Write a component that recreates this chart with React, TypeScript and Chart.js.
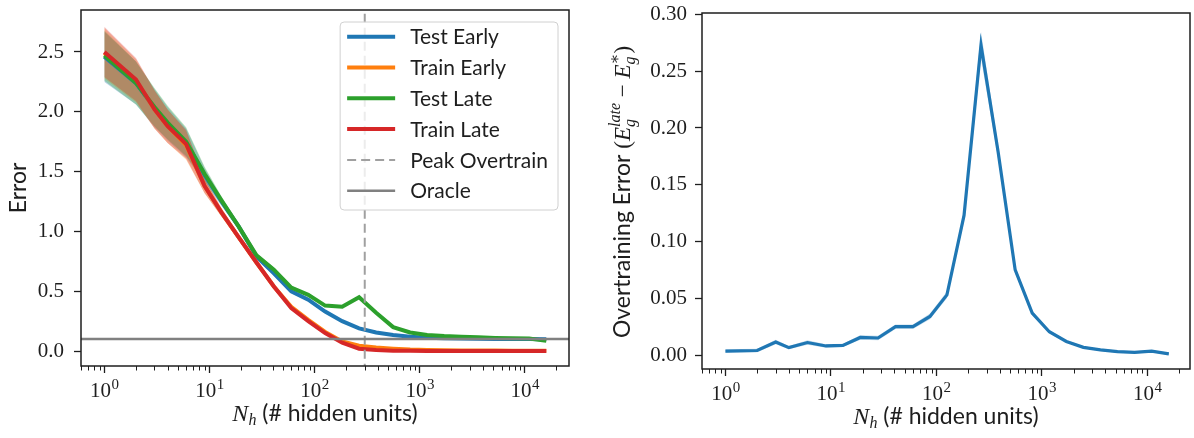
import React, { useEffect, useRef } from "react";
import { Chart, registerables } from "chart.js";
Chart.register(...registerables);

// ---------------- data ----------------
const hiddenUnits = [1, 2, 3, 4, 6, 9, 13, 19, 28, 41, 60, 87, 126, 183, 265, 385, 559, 811, 1177, 1708, 2478, 3597, 5220, 7575, 10993, 16000];
const testEarly = [2.46, 2.24, 2.03, 1.9, 1.74, 1.47, 1.25, 1.04, 0.79, 0.65, 0.5, 0.43, 0.33, 0.25, 0.19, 0.155, 0.135, 0.12, 0.112, 0.108, 0.105, 0.103, 0.101, 0.1, 0.1, 0.098];
const trainEarly = [2.49, 2.26, 2.02, 1.88, 1.72, 1.38, 1.16, 0.95, 0.74, 0.54, 0.37, 0.26, 0.16, 0.08, 0.045, 0.03, 0.02, 0.012, 0.008, 0.006, 0.005, 0.004, 0.004, 0.003, 0.003, 0.003];
const testLate = [2.47, 2.24, 2.04, 1.91, 1.75, 1.48, 1.26, 1.04, 0.8, 0.68, 0.53, 0.47, 0.38, 0.37, 0.45, 0.32, 0.2, 0.155, 0.135, 0.125, 0.12, 0.115, 0.11, 0.108, 0.105, 0.085];
const trainLate = [2.5, 2.27, 2.02, 1.88, 1.73, 1.38, 1.16, 0.95, 0.74, 0.54, 0.36, 0.25, 0.15, 0.07, 0.02, 0.008, 0.003, 0.002, 0.001, 0.001, 0.001, 0.001, 0.001, 0.001, 0.001, 0.001];
const errorBand = [0.21, 0.18, 0.16, 0.14, 0.12, 0.06, 0.035, 0.025, 0.02, 0.018, 0.015, 0.012, 0.01, 0.01, 0.008, 0.006, 0.005, 0.004, 0.003, 0.003, 0.003, 0.002, 0.002, 0.002, 0.002, 0.002];
const overtrainError = [0.0035, 0.004, 0.0115, 0.0065, 0.011, 0.008, 0.0085, 0.0155, 0.015, 0.025, 0.025, 0.034, 0.053, 0.123, 0.273, 0.179, 0.075, 0.037, 0.0205, 0.012, 0.0068, 0.0045, 0.003, 0.0024, 0.0035, 0.001];
const overtrainBand = [0.0015, 0.0015, 0.002, 0.0015, 0.002, 0.0015, 0.0015, 0.002, 0.002, 0.002, 0.002, 0.0025, 0.003, 0.005, 0.012, 0.006, 0.003, 0.002, 0.0015, 0.001, 0.001, 0.001, 0.001, 0.001, 0.001, 0.001];
const peakOvertrain = 300;
const oracleError = 0.1;
const xMajorTicks = [1, 10, 100, 1000, 10000];
const leftYTicks = [0, 0.5, 1, 1.5, 2, 2.5];
const rightYTicks = [0, 0.05, 0.1, 0.15, 0.2, 0.25, 0.3];
const seriesLabels = ["Test Early", "Train Early", "Test Late", "Train Late", "Peak Overtrain", "Oracle"];

// ---------------- styles ----------------
const BLUE = "#1f77b4";
const ORANGE = "#ff7f0e";
const GREEN = "#2ca02c";
const RED = "#d62728";
const INK = "#1e1e1e";
const SERIF = '"Liberation Serif", "DejaVu Serif", serif';
const SANS = 'Lato, "Open Sans", sans-serif';

const pts = (vals: number[]) => hiddenUnits.map((x, i) => ({ x, y: vals[i] }));
const bandPts = (vals: number[], band: number[], s: number) => hiddenUnits.map((x, i) => ({ x, y: vals[i] + s * band[i] }));

type Seg = { t: string; f: string; dy?: number } | { sup: string; sub: string; f: string; supDy: number; subDy: number };

function segW(ctx: CanvasRenderingContext2D, s: Seg) {
  ctx.font = s.f;
  if ("t" in s) return ctx.measureText(s.t).width;
  return Math.max(ctx.measureText(s.sup).width, ctx.measureText(s.sub).width);
}
function drawRich(ctx: CanvasRenderingContext2D, segs: Seg[], cx: number, cy: number, rot: boolean) {
  ctx.save();
  ctx.translate(cx, cy);
  if (rot) ctx.rotate(-Math.PI / 2);
  ctx.textBaseline = "alphabetic";
  ctx.textAlign = "left";
  ctx.fillStyle = INK;
  const total = segs.reduce((a, s) => a + segW(ctx, s), 0);
  let x = -total / 2;
  for (const s of segs) {
    const w = segW(ctx, s);
    ctx.font = s.f;
    if ("t" in s) ctx.fillText(s.t, x, s.dy || 0);
    else {
      ctx.fillText(s.sup, x, s.supDy);
      ctx.fillText(s.sub, x, s.subDy);
    }
    x += w;
  }
  ctx.restore();
}

function decorPlugin(xTitle: Seg[], yTitle: Seg[], yTitleX: number, yTitleY: number | null) {
  return {
    id: "decor",
    afterDraw(chart: any) {
      const ctx: CanvasRenderingContext2D = chart.ctx;
      const a = chart.chartArea;
      const xs = chart.scales.x;
      ctx.save();
      // spines
      ctx.strokeStyle = INK;
      ctx.lineWidth = 1.5;
      ctx.strokeRect(a.left, a.top, a.right - a.left, a.bottom - a.top);
      // minor ticks
      ctx.lineWidth = 1;
      const lo = Math.floor(Math.log10(xs.min));
      const hi = Math.ceil(Math.log10(xs.max));
      for (let k = lo; k <= hi; k++) {
        for (let m = 2; m <= 9; m++) {
          const v = m * Math.pow(10, k);
          if (v < xs.min || v > xs.max) continue;
          const px = Math.round(xs.getPixelForValue(v)) + 0.5;
          ctx.beginPath();
          ctx.moveTo(px, a.bottom);
          ctx.lineTo(px, a.bottom + 4.5);
          ctx.stroke();
        }
      }
      // x tick labels 10^k
      ctx.fillStyle = INK;
      ctx.textBaseline = "alphabetic";
      ctx.textAlign = "left";
      for (const v of xMajorTicks) {
        const px = xs.getPixelForValue(v);
        const e = String(Math.round(Math.log10(v)));
        ctx.font = `21px ${SERIF}`;
        const w1 = ctx.measureText("10").width;
        ctx.font = `15px ${SERIF}`;
        const w2 = ctx.measureText(e).width;
        const x0 = px - (w1 + w2) / 2;
        ctx.font = `21px ${SERIF}`;
        ctx.fillText("10", x0, a.bottom + 31);
        ctx.font = `15px ${SERIF}`;
        ctx.fillText(e, x0 + w1 + 0.5, a.bottom + 23);
      }
      ctx.restore();
      drawRich(ctx, xTitle, (a.left + a.right) / 2, a.bottom + 55, false);
      drawRich(ctx, yTitle, yTitleX, yTitleY ?? (a.top + a.bottom) / 2, true);
    },
  };
}

const legendPlugin = {
  id: "boxLegend",
  afterDraw(chart: any) {
    const items = chart.data.datasets
      .filter((d: any) => d.legendRank !== undefined)
      .sort((p: any, q: any) => p.legendRank - q.legendRank);
    if (!items.length) return;
    const ctx: CanvasRenderingContext2D = chart.ctx;
    const a = chart.chartArea;
    ctx.save();
    ctx.font = `21px ${SANS}`;
    const maxW = Math.max(...items.map((d: any) => ctx.measureText(d.label).width));
    const rowH = 30.8, handle = 48, pad = 7, gap = 15, rpad = 10;
    const w = pad + handle + gap + maxW + rpad;
    const h = 14.7 + rowH * (items.length - 1) + 19.3;
    const x0 = a.right - 11 - w;
    const y0 = a.top + 12;
    ctx.beginPath();
    (ctx as any).roundRect(x0, y0, w, h, 4);
    ctx.fillStyle = "rgba(255,255,255,0.8)";
    ctx.fill();
    ctx.strokeStyle = "#d0d0d0";
    ctx.lineWidth = 1;
    ctx.stroke();
    items.forEach((d: any, i: number) => {
      const cy = y0 + 14.7 + i * rowH;
      ctx.beginPath();
      ctx.setLineDash(d.borderDash || []);
      ctx.strokeStyle = d.borderColor;
      ctx.lineWidth = d.borderWidth;
      ctx.moveTo(x0 + pad, cy);
      ctx.lineTo(x0 + pad + handle, cy);
      ctx.stroke();
      ctx.setLineDash([]);
      ctx.fillStyle = INK;
      ctx.textBaseline = "middle";
      ctx.textAlign = "left";
      ctx.fillText(d.label, x0 + pad + handle + gap, cy + 1);
    });
    ctx.restore();
  },
};

const zeroPad = (s: any) => {
  s.paddingLeft = 0;
  s.paddingRight = 0;
  s.paddingTop = 0;
  s.paddingBottom = 0;
};

function axisGrid() {
  return { drawOnChartArea: false, drawTicks: true, tickLength: 7, tickWidth: 1.3, tickColor: INK, color: INK };
}

function lineDs(label: string, vals: number[], color: string, order: number, rank: number) {
  return { label, data: pts(vals), borderColor: color, backgroundColor: color, borderWidth: 4, pointRadius: 0, tension: 0, fill: false, order, legendRank: rank };
}
function bandDs(vals: number[], band: number[], rgba: string, order: number) {
  return [
    { label: "", data: bandPts(vals, band, -1), borderWidth: 0, pointRadius: 0, fill: false, order, borderColor: "transparent" },
    { label: "", data: bandPts(vals, band, 1), borderWidth: 0, pointRadius: 0, fill: "-1", backgroundColor: rgba, order, borderColor: "transparent" },
  ];
}

function leftConfig(): any {
  const datasets: any[] = [
    { label: seriesLabels[5], data: [{ x: 0.1, y: oracleError }, { x: 1e6, y: oracleError }], borderColor: "#808080", borderWidth: 2.5, pointRadius: 0, fill: false, order: 0, legendRank: 5 },
    { label: seriesLabels[4], data: [{ x: peakOvertrain, y: -1 }, { x: peakOvertrain, y: 4 }], borderColor: "#a0a0a0", borderDash: [9, 5], borderWidth: 2, pointRadius: 0, fill: false, order: 0, legendRank: 4 },
    lineDs(seriesLabels[3], trainLate, RED, 1, 3),
    lineDs(seriesLabels[2], testLate, GREEN, 2, 2),
    lineDs(seriesLabels[1], trainEarly, ORANGE, 3, 1),
    lineDs(seriesLabels[0], testEarly, BLUE, 4, 0),
    ...bandDs(trainLate, errorBand, "rgba(214,39,40,0.3)", 10),
    ...bandDs(testLate, errorBand, "rgba(44,160,44,0.3)", 11),
    ...bandDs(trainEarly, errorBand, "rgba(255,127,14,0.3)", 12),
    ...bandDs(testEarly, errorBand, "rgba(31,119,180,0.3)", 13),
  ];
  const xTitle: Seg[] = [
    { t: "N", f: `italic 24px ${SERIF}` },
    { t: "h", f: `italic 16px ${SERIF}`, dy: 4 },
    { t: " (# hidden units)", f: `23px ${SANS}` },
  ];
  const yTitle: Seg[] = [{ t: "Error", f: `23px ${SANS}` }];
  return {
    type: "line",
    data: { datasets },
    options: {
      responsive: false,
      devicePixelRatio: 1,
      animation: false,
      layout: { padding: { left: 0, top: 10, right: 21, bottom: 0 } },
      plugins: { legend: { display: false }, tooltip: { enabled: false } },
      scales: {
        x: {
          type: "logarithmic",
          min: 0.604,
          max: 26300,
          afterBuildTicks: (s: any) => { s.ticks = xMajorTicks.map((v) => ({ value: v, major: true })); },
          afterFit: (s: any) => { s.height = 72; zeroPad(s); },
          ticks: { display: false },
          grid: axisGrid(),
          border: { display: false },
        },
        y: {
          type: "linear",
          min: -0.125,
          max: 2.851,
          afterBuildTicks: (s: any) => { s.ticks = leftYTicks.map((v) => ({ value: v })); },
          afterFit: (s: any) => { s.width = 81; zeroPad(s); },
          ticks: { font: { family: SERIF, size: 21 }, color: INK, padding: 10, callback: (v: any) => Number(v).toFixed(1) },
          grid: axisGrid(),
          border: { display: false },
        },
      },
    },
    plugins: [decorPlugin(xTitle, yTitle, 26, null), legendPlugin],
  };
}

function rightConfig(): any {
  const datasets: any[] = [
    { label: "Overtraining Error", data: pts(overtrainError), borderColor: BLUE, borderWidth: 3.2, pointRadius: 0, tension: 0, fill: false, order: 1 },
    ...bandDs(overtrainError, overtrainBand, "rgba(31,119,180,0.25)", 10),
  ];
  const xTitle: Seg[] = [
    { t: "N", f: `italic 24px ${SERIF}` },
    { t: "h", f: `italic 16px ${SERIF}`, dy: 4 },
    { t: " (# hidden units)", f: `23px ${SANS}` },
  ];
  const mi = `italic 23px ${SERIF}`;
  const ms = `italic 16px ${SERIF}`;
  const yTitle: Seg[] = [
    { t: "Overtraining Error ", f: `23px ${SANS}` },
    { t: "(", f: `23px ${SERIF}` },
    { t: "E", f: mi },
    { sup: "late", sub: "g", f: ms, supDy: -10, subDy: 5 },
    { t: " \u2212 ", f: `23px ${SERIF}` },
    { t: "E", f: mi },
    { sup: "\u2217", sub: "g", f: ms, supDy: -10, subDy: 5 },
    { t: ")", f: `23px ${SERIF}` },
  ];
  return {
    type: "line",
    data: { datasets },
    options: {
      responsive: false,
      devicePixelRatio: 1,
      animation: false,
      layout: { padding: { left: 0, top: 13, right: 4, bottom: 0 } },
      plugins: { legend: { display: false }, tooltip: { enabled: false } },
      scales: {
        x: {
          type: "logarithmic",
          min: 0.619,
          max: 25400,
          afterBuildTicks: (s: any) => { s.ticks = xMajorTicks.map((v) => ({ value: v, major: true })); },
          afterFit: (s: any) => { s.height = 69; zeroPad(s); },
          ticks: { display: false },
          grid: axisGrid(),
          border: { display: false },
        },
        y: {
          type: "linear",
          min: -0.0123,
          max: 0.3013,
          afterBuildTicks: (s: any) => { s.ticks = rightYTicks.map((v) => ({ value: v })); },
          afterFit: (s: any) => { s.width = 112; zeroPad(s); },
          ticks: { font: { family: SERIF, size: 21 }, color: INK, padding: 8, callback: (v: any) => Number(v).toFixed(2) },
          grid: axisGrid(),
          border: { display: false },
        },
      },
    },
    plugins: [decorPlugin(xTitle, yTitle, 40, 192)],
  };
}

export default function App() {
  const leftRef = useRef<HTMLCanvasElement>(null);
  const rightRef = useRef<HTMLCanvasElement>(null);
  useEffect(() => {
    const c1 = new Chart(leftRef.current as HTMLCanvasElement, leftConfig());
    const c2 = new Chart(rightRef.current as HTMLCanvasElement, rightConfig());
    return () => {
      c1.destroy();
      c2.destroy();
    };
  }, []);
  return (
    <div style={{ position: "absolute", left: 0, top: 0, width: 1194, height: 438, background: "#fff", display: "flex" }}>
      <canvas ref={leftRef} width={590} height={438} style={{ display: "block", width: 590, height: 438 }} />
      <canvas ref={rightRef} width={604} height={438} style={{ display: "block", width: 604, height: 438 }} />
    </div>
  );
}
